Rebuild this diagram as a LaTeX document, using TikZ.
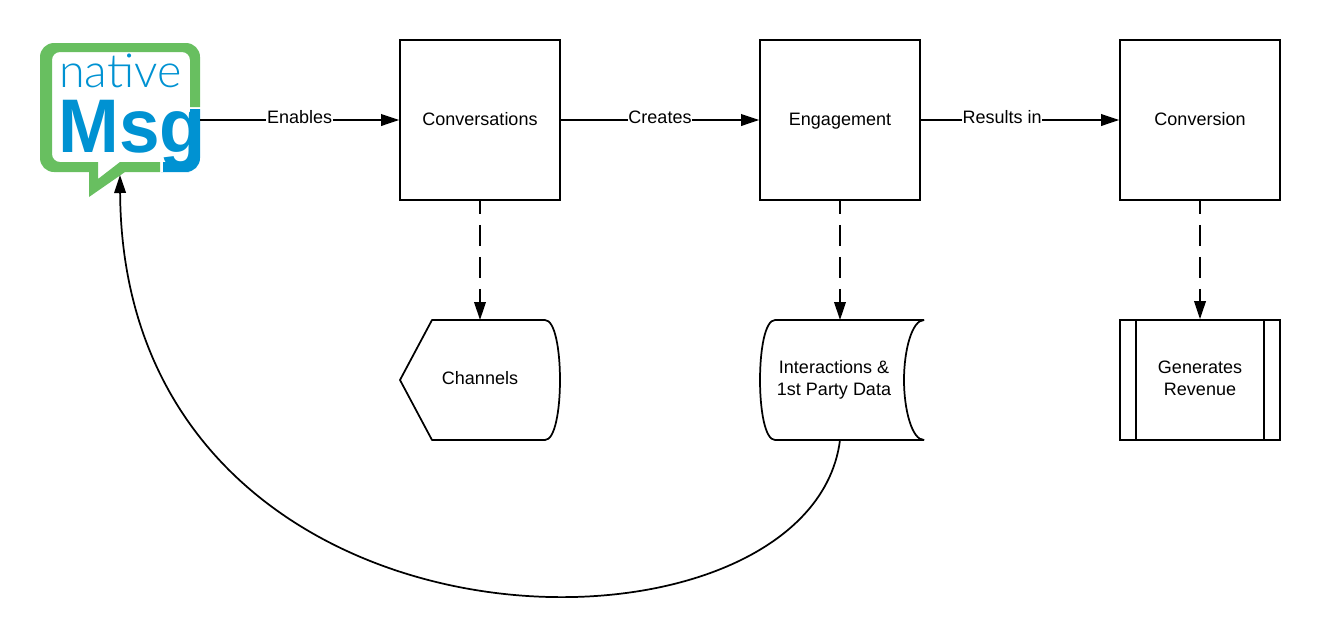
\documentclass[tikz,border=0pt]{standalone}
\usepackage{fontspec}
\usepackage{xcolor}
\usepackage{tikz}
\usetikzlibrary{arrows.meta, positioning}
\setmainfont{Liberation Sans}
\newfontfamily\logolight{Lato Light}
\definecolor{nmgreen}{RGB}{104, 191, 96}
\definecolor{nmblue}{RGB}{0, 146, 210}
\tikzset{
  flowbox/.style={draw, line width=1.3pt, minimum width=120pt, minimum height=120pt, inner sep=0pt},
  shapetext/.style={inner sep=0pt, align=center, font=\fontsize{13.5}{16.5}\selectfont},
  boxtext/.style={text height=11pt, text depth=3pt, font=\fontsize{13.5}{16.5}\selectfont},
  edgetext/.style={fill=white, inner sep=0.5pt, yshift=0.5pt, text height=9.5pt, text depth=3pt, font=\fontsize{13.5}{16.5}\selectfont},
  flowline/.style={line width=1.3pt, -{Triangle[length=13.5pt, width=8.7pt]}},
  dashline/.style={flowline, dash pattern=on 16pt off 8pt, dash phase=6pt},
  shapeline/.style={line width=1.3pt, line join=round}
}

\begin{document}
\begin{tikzpicture}[x=0.75pt, y=-0.75pt]
\useasboundingbox (0,0) rectangle (1320,637);

% Logo
\fill[nmgreen, rounded corners=10.5pt] (200,107) -- (200,43) -- (40,43) -- (40,172) -- (70,172) [sharp corners] -- (89,172)
  -- (89,197) -- (125,172) -- (160,172) -- (160,162) -- (120,162) -- (98,179) -- (98,162) -- (80,162) [rounded corners=6pt]
  -- (52,162) -- (52,52) -- (190,52) -- (190,80) [sharp corners] -- (190,107) -- cycle;
\fill[nmblue, rounded corners=10.5pt] (200,109) -- (200,172) -- (175,172) [sharp corners] -- (163,172) -- (163,162) -- (175,162)
  [rounded corners=6pt] -- (190,162) -- (190,130) [sharp corners] -- (190,109) -- cycle;
\node[anchor=base west, inner sep=0pt, text=nmblue, font=\logolight\fontsize{35}{35}\selectfont] (logotop) at (59,87) {native};
\node[anchor=base west, inner sep=0pt, text=nmblue, font=\bfseries\fontsize{57}{57}\selectfont, xscale=0.96] (logomsg) at (58,152) {Msg};
\coordinate (logoout) at (200,120);
\coordinate (logoin) at (120,175);

% Boxes
\node[flowbox, boxtext] (conversations) at (480,120) {Conversations};
\node[flowbox, boxtext] (engagement) at (840,120) {Engagement};
\node[flowbox, boxtext] (conversion) at (1200,120) {Conversion};

% Channels
\draw[shapeline] (400,380) -- (432,320) -- (545,320) .. controls (555,320) and (560,350) .. (560,380)
  .. controls (560,410) and (555,440) .. (545,440) -- (432,440) -- cycle;
\node[shapetext] (channels) at (480,378) {Channels};
\coordinate (channelstop) at (480,320);

% Interactions
\draw[shapeline] (924,320) -- (775,320) .. controls (765,320) and (760,350) .. (760,380)
  .. controls (760,410) and (765,440) .. (775,440) -- (924,440);
\draw[shapeline] (924,320) .. controls (912,320) and (904,350) .. (904,380)
  .. controls (904,410) and (912,440) .. (924,440);
\node[shapetext] (interactions) at (834,380) {Interactions \&\\1st Party Data};
\coordinate (interactionstop) at (840,320);
\coordinate (interactionsbot) at (840,440);

% Revenue
\node[flowbox, minimum height=90pt] (revenue) at (1200,380) {};
\draw[shapeline] (1136,320) -- (1136,440);
\draw[shapeline] (1264,320) -- (1264,440);
\node[shapetext] (revenuetext) at (1200,378) {Generates\\Revenue};

% Connectors
\draw[flowline] (logoout) -- node[edgetext, pos=0.5] {Enables} (conversations.west);
\draw[flowline] (conversations) -- node[edgetext, pos=0.5] {Creates} (engagement);
\draw[flowline] (engagement) -- node[edgetext, pos=0.41] {Results in} (conversion);
\draw[dashline] (conversations) -- (channelstop);
\draw[dashline] (engagement) -- (interactionstop);
\draw[dashline] (conversion) -- (revenue);
\draw[flowline] (interactionsbot) .. controls (810,680) and (123,680) .. (logoin);
\end{tikzpicture}
\end{document}
